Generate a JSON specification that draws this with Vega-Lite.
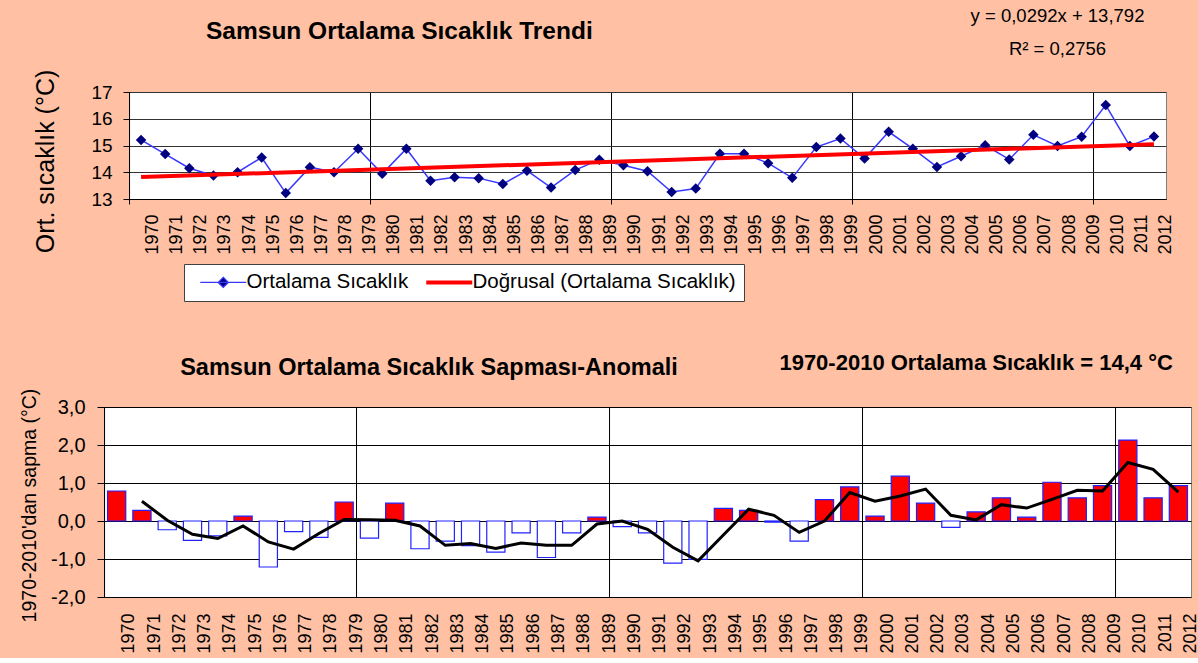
{
  "$schema": "https://vega.github.io/schema/vega-lite/v6.json",
  "background": "#ffc0a4",
  "padding": {"left": 18, "top": 6, "right": 4, "bottom": 4},
  "columns": 1,
  "center": true,
  "spacing": 96,
  "config": {
    "font": "Liberation Sans",
    "view": {"stroke": "#808080", "fill": "white"},
    "axis": {"labelFont": "Liberation Sans", "titleFont": "Liberation Sans", "labelColor": "black", "titleColor": "black", "domainColor": "black", "tickColor": "black", "labelFontWeight": "normal", "titleFontWeight": "normal", "labelOverlap": false},
    "legend": {"labelFont": "Liberation Sans"}
  },
  "datasets": {
    "temp": [
      {"year": 1970, "t": 15.21}, {"year": 1971, "t": 14.68}, {"year": 1972, "t": 14.15}, {"year": 1973, "t": 13.88},
      {"year": 1974, "t": 14.0}, {"year": 1975, "t": 14.55}, {"year": 1976, "t": 13.22}, {"year": 1977, "t": 14.19},
      {"year": 1978, "t": 14.0}, {"year": 1979, "t": 14.88}, {"year": 1980, "t": 13.94}, {"year": 1981, "t": 14.88},
      {"year": 1982, "t": 13.68}, {"year": 1983, "t": 13.81}, {"year": 1984, "t": 13.78}, {"year": 1985, "t": 13.56},
      {"year": 1986, "t": 14.06}, {"year": 1987, "t": 13.43}, {"year": 1988, "t": 14.08}, {"year": 1989, "t": 14.47},
      {"year": 1990, "t": 14.26}, {"year": 1991, "t": 14.04}, {"year": 1992, "t": 13.26}, {"year": 1993, "t": 13.39},
      {"year": 1994, "t": 14.69}, {"year": 1995, "t": 14.69}, {"year": 1996, "t": 14.34}, {"year": 1997, "t": 13.79},
      {"year": 1998, "t": 14.94}, {"year": 1999, "t": 15.26}, {"year": 2000, "t": 14.51}, {"year": 2001, "t": 15.51},
      {"year": 2002, "t": 14.88}, {"year": 2003, "t": 14.2}, {"year": 2004, "t": 14.6}, {"year": 2005, "t": 15.01},
      {"year": 2006, "t": 14.48}, {"year": 2007, "t": 15.4}, {"year": 2008, "t": 14.98}, {"year": 2009, "t": 15.33},
      {"year": 2010, "t": 16.51}, {"year": 2011, "t": 14.98}, {"year": 2012, "t": 15.34}
    ],
    "trend": [
      {"year": 1970, "t": 13.821}, {"year": 2012, "t": 15.048}
    ],
    "anom": [
      {"year": 1970, "dev": 0.79}, {"year": 1971, "dev": 0.28, "ma": 0.52}, {"year": 1972, "dev": -0.23, "ma": 0.02},
      {"year": 1973, "dev": -0.51, "ma": -0.35}, {"year": 1974, "dev": -0.39, "ma": -0.46}, {"year": 1975, "dev": 0.13, "ma": -0.13},
      {"year": 1976, "dev": -1.21, "ma": -0.55}, {"year": 1977, "dev": -0.28, "ma": -0.74}, {"year": 1978, "dev": -0.43, "ma": -0.33},
      {"year": 1979, "dev": 0.5, "ma": 0.04}, {"year": 1980, "dev": -0.45, "ma": 0.03}, {"year": 1981, "dev": 0.47, "ma": 0.02},
      {"year": 1982, "dev": -0.73, "ma": -0.13}, {"year": 1983, "dev": -0.53, "ma": -0.64}, {"year": 1984, "dev": -0.65, "ma": -0.59},
      {"year": 1985, "dev": -0.82, "ma": -0.72}, {"year": 1986, "dev": -0.31, "ma": -0.58}, {"year": 1987, "dev": -0.96, "ma": -0.64},
      {"year": 1988, "dev": -0.31, "ma": -0.64}, {"year": 1989, "dev": 0.1, "ma": -0.08}, {"year": 1990, "dev": -0.15, "ma": 0.0},
      {"year": 1991, "dev": -0.31, "ma": -0.22}, {"year": 1992, "dev": -1.11, "ma": -0.69}, {"year": 1993, "dev": -1.01, "ma": -1.05},
      {"year": 1994, "dev": 0.33, "ma": -0.37}, {"year": 1995, "dev": 0.28, "ma": 0.31}, {"year": 1996, "dev": -0.03, "ma": 0.15},
      {"year": 1997, "dev": -0.53, "ma": -0.3}, {"year": 1998, "dev": 0.56, "ma": 0.0}, {"year": 1999, "dev": 0.9, "ma": 0.75},
      {"year": 2000, "dev": 0.13, "ma": 0.52}, {"year": 2001, "dev": 1.18, "ma": 0.66}, {"year": 2002, "dev": 0.47, "ma": 0.84},
      {"year": 2003, "dev": -0.17, "ma": 0.15}, {"year": 2004, "dev": 0.24, "ma": 0.03}, {"year": 2005, "dev": 0.61, "ma": 0.43},
      {"year": 2006, "dev": 0.1, "ma": 0.34}, {"year": 2007, "dev": 1.02, "ma": 0.57}, {"year": 2008, "dev": 0.61, "ma": 0.81},
      {"year": 2009, "dev": 0.93, "ma": 0.79}, {"year": 2010, "dev": 2.13, "ma": 1.54}, {"year": 2011, "dev": 0.61, "ma": 1.36},
      {"year": 2012, "dev": 0.93, "ma": 0.76}
    ]
  },
  "concat": [
    {
      "width": 1037,
      "height": 107,
      "layer": [
        {
          "data": {"name": "temp"},
          "mark": {"type": "line", "strokeWidth": 1.5},
          "encoding": {
            "x": {
              "field": "year", "type": "ordinal",
              "scale": {"type": "band", "paddingInner": 0, "paddingOuter": 0},
              "axis": {
                "title": null, "labelAngle": 270, "labelFontSize": 18, "labelPadding": 10, "labelOffset": 12,
                "bandPosition": 0, "tickSize": 5,
                "tickOpacity": {"condition": {"test": "datum.value % 10 === 0", "value": 1}, "value": 0},
                "grid": true, "gridColor": "black",
                "gridOpacity": {"condition": {"test": "datum.value % 10 === 0", "value": 1}, "value": 0}
              }
            },
            "y": {
              "field": "t", "type": "quantitative",
              "scale": {"domain": [13, 17]},
              "axis": {"title": "Ort. sıcaklık (°C)", "values": [13, 14, 15, 16, 17], "grid": true, "gridColor": "#333333", "tickSize": 6, "labelPadding": 11, "labelFontSize": 19, "titleFontSize": 25, "titleX": -84, "titleY": 69, "titleAngle": 270, "titleBaseline": "middle", "titleAlign": "center"}
            },
            "color": {
              "datum": "Ortalama Sıcaklık", "type": "nominal",
              "scale": {"domain": ["Ortalama Sıcaklık", "Doğrusal (Ortalama Sıcaklık)"], "range": ["#3838ff", "#ff0000"]},
              "legend": {
                "orient": "none", "legendX": 80, "legendY": 172, "direction": "horizontal", "title": null,
                "fillColor": "white", "strokeColor": "#404040", "padding": 8,
                "labelFontSize": 20.5, "labelColor": "black", "labelLimit": 500, "labelOffset": 13,
                "symbolSize": 2116, "symbolOffset": 21, "columnPadding": 9,
                "encode": {
                  "symbols": {
                    "update": {
                      "shape": {"signal": "datum.value === 'Ortalama Sıcaklık' ? 'M-1,0H1M0,-0.22L0.22,0L0,0.22L-0.22,0Z' : 'M-1,0H1'"},
                      "fill": {"signal": "datum.value === 'Ortalama Sıcaklık' ? '#000080' : 'transparent'"},
                      "stroke": {"signal": "datum.value === 'Ortalama Sıcaklık' ? '#2020ff' : '#ff0000'"},
                      "strokeWidth": {"signal": "datum.value === 'Ortalama Sıcaklık' ? 1.3 : 4"}
                    }
                  }
                }
              }
            }
          }
        },
        {
          "data": {"name": "temp"},
          "mark": {"type": "point", "shape": "diamond", "filled": true, "color": "#000080", "size": 110, "opacity": 1},
          "encoding": {
            "x": {"field": "year", "type": "ordinal"},
            "y": {"field": "t", "type": "quantitative", "scale": {"domain": [13, 17]},
              "axis": {"title": "Ort. sıcaklık (°C)", "values": [13, 14, 15, 16, 17], "grid": true, "gridColor": "#333333", "tickSize": 6, "labelPadding": 11, "labelFontSize": 19, "titleFontSize": 25, "titleX": -84, "titleY": 69, "titleAngle": 270, "titleBaseline": "middle", "titleAlign": "center"}}
          }
        },
        {
          "data": {"name": "trend"},
          "mark": {"type": "line", "strokeWidth": 4},
          "encoding": {
            "x": {"field": "year", "type": "ordinal"},
            "y": {"field": "t", "type": "quantitative", "scale": {"domain": [13, 17]},
              "axis": {"title": "Ort. sıcaklık (°C)", "values": [13, 14, 15, 16, 17], "grid": true, "gridColor": "#333333", "tickSize": 6, "labelPadding": 11, "labelFontSize": 19, "titleFontSize": 25, "titleX": -84, "titleY": 69, "titleAngle": 270, "titleBaseline": "middle", "titleAlign": "center"}},
            "color": {"datum": "Doğrusal (Ortalama Sıcaklık)", "type": "nominal"}
          }
        },
        {
          "data": {"values": [{}]},
          "mark": {"type": "text", "text": "Samsun Ortalama Sıcaklık Trendi", "fontSize": 24.5, "fontWeight": "bold", "font": "Liberation Sans", "align": "center", "baseline": "middle", "color": "black", "dx": -7},
          "encoding": {
            "x": {"datum": 1981, "type": "ordinal"},
            "y": {"datum": 19.24, "type": "quantitative", "scale": {"domain": [13, 17]},
              "axis": {"title": "Ort. sıcaklık (°C)", "values": [13, 14, 15, 16, 17], "grid": true, "gridColor": "#333333", "tickSize": 6, "labelPadding": 11, "labelFontSize": 19, "titleFontSize": 25, "titleX": -84, "titleY": 69, "titleAngle": 270, "titleBaseline": "middle", "titleAlign": "center"}}
          }
        },
        {
          "data": {"values": [{}]},
          "mark": {"type": "text", "text": "y = 0,0292x + 13,792", "fontSize": 18.5, "font": "Liberation Sans", "align": "center", "baseline": "middle", "color": "black"},
          "encoding": {
            "x": {"datum": 2008, "type": "ordinal"},
            "y": {"datum": 19.84, "type": "quantitative", "scale": {"domain": [13, 17]},
              "axis": {"title": "Ort. sıcaklık (°C)", "values": [13, 14, 15, 16, 17], "grid": true, "gridColor": "#333333", "tickSize": 6, "labelPadding": 11, "labelFontSize": 19, "titleFontSize": 25, "titleX": -84, "titleY": 69, "titleAngle": 270, "titleBaseline": "middle", "titleAlign": "center"}}
          }
        },
        {
          "data": {"values": [{}]},
          "mark": {"type": "text", "text": "R² = 0,2756", "fontSize": 18.5, "font": "Liberation Sans", "align": "center", "baseline": "middle", "color": "black"},
          "encoding": {
            "x": {"datum": 2008, "type": "ordinal"},
            "y": {"datum": 18.61, "type": "quantitative", "scale": {"domain": [13, 17]},
              "axis": {"title": "Ort. sıcaklık (°C)", "values": [13, 14, 15, 16, 17], "grid": true, "gridColor": "#333333", "tickSize": 6, "labelPadding": 11, "labelFontSize": 19, "titleFontSize": 25, "titleX": -84, "titleY": 69, "titleAngle": 270, "titleBaseline": "middle", "titleAlign": "center"}}
          }
        }
      ]
    },
    {
      "width": 1087,
      "height": 190,
      "layer": [
        {
          "data": {"name": "anom"},
          "mark": {"type": "bar", "stroke": "#2222ff", "strokeWidth": 1.2, "width": {"band": 0.72}},
          "encoding": {
            "x": {
              "field": "year", "type": "ordinal",
              "scale": {"type": "band", "paddingInner": 0, "paddingOuter": 0},
              "axis": {
                "title": null, "labelAngle": 270, "labelFontSize": 18, "labelPadding": 16, "labelOffset": 12.6,
                "bandPosition": 0, "ticks": false, "domain": false,
                "grid": true, "gridColor": "black",
                "gridOpacity": {"condition": {"test": "datum.value % 10 === 0", "value": 1}, "value": 0}
              }
            },
            "y": {
              "field": "dev", "type": "quantitative",
              "scale": {"domain": [-2, 3]},
              "axis": {"title": "1970-2010'dan sapma (°C)", "values": [-2, -1, 0, 1, 2, 3], "labelExpr": "replace(replace(format(datum.value, '.1f'), '.', ','), '−', '-')", "grid": true, "gridColor": "black", "tickSize": 7, "labelPadding": 12, "labelFontSize": 20, "titleFontSize": 19.5, "titleX": -75, "titleY": 98, "titleAngle": 270, "titleBaseline": "middle", "titleAlign": "center"}
            },
            "color": {"condition": {"test": "datum.dev > 0", "value": "#ff0000"}, "value": "#ffffff"}
          }
        },
        {
          "data": {"name": "anom"},
          "mark": {"type": "line", "color": "black", "strokeWidth": 3},
          "encoding": {
            "x": {"field": "year", "type": "ordinal"},
            "y": {"field": "ma", "type": "quantitative", "scale": {"domain": [-2, 3]},
              "axis": {"title": "1970-2010'dan sapma (°C)", "values": [-2, -1, 0, 1, 2, 3], "labelExpr": "replace(replace(format(datum.value, '.1f'), '.', ','), '−', '-')", "grid": true, "gridColor": "black", "tickSize": 7, "labelPadding": 12, "labelFontSize": 20, "titleFontSize": 19.5, "titleX": -75, "titleY": 98, "titleAngle": 270, "titleBaseline": "middle", "titleAlign": "center"}}
          }
        },
        {
          "data": {"values": [{}]},
          "mark": {"type": "text", "text": "Samsun Ortalama Sıcaklık Sapması-Anomali", "fontSize": 23.5, "fontWeight": "bold", "font": "Liberation Sans", "align": "center", "baseline": "middle", "color": "black", "dx": 9},
          "encoding": {
            "x": {"datum": 1982, "type": "ordinal"},
            "y": {"datum": 4.03, "type": "quantitative", "scale": {"domain": [-2, 3]},
              "axis": {"title": "1970-2010'dan sapma (°C)", "values": [-2, -1, 0, 1, 2, 3], "labelExpr": "replace(replace(format(datum.value, '.1f'), '.', ','), '−', '-')", "grid": true, "gridColor": "black", "tickSize": 7, "labelPadding": 12, "labelFontSize": 20, "titleFontSize": 19.5, "titleX": -75, "titleY": 98, "titleAngle": 270, "titleBaseline": "middle", "titleAlign": "center"}}
          }
        },
        {
          "data": {"values": [{}]},
          "mark": {"type": "text", "text": "1970-2010 Ortalama Sıcaklık = 14,4 °C", "fontSize": 22, "fontWeight": "bold", "font": "Liberation Sans", "align": "center", "baseline": "middle", "color": "black"},
          "encoding": {
            "x": {"datum": 2004, "type": "ordinal"},
            "y": {"datum": 4.16, "type": "quantitative", "scale": {"domain": [-2, 3]},
              "axis": {"title": "1970-2010'dan sapma (°C)", "values": [-2, -1, 0, 1, 2, 3], "labelExpr": "replace(replace(format(datum.value, '.1f'), '.', ','), '−', '-')", "grid": true, "gridColor": "black", "tickSize": 7, "labelPadding": 12, "labelFontSize": 20, "titleFontSize": 19.5, "titleX": -75, "titleY": 98, "titleAngle": 270, "titleBaseline": "middle", "titleAlign": "center"}}
          }
        }
      ]
    }
  ]
}
